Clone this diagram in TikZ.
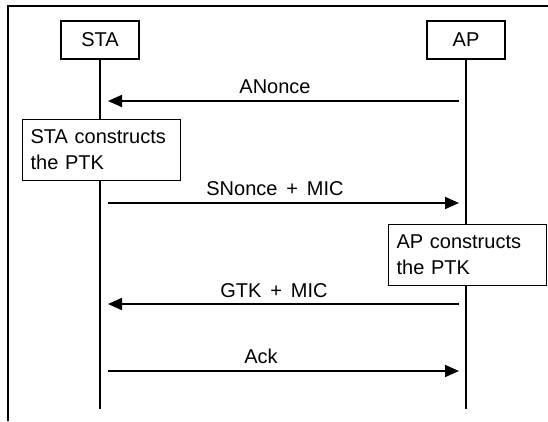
\documentclass[tikz,border=0pt]{standalone}
\usepackage{fontspec}
\setmainfont{Liberation Sans}
\usepackage{tikz}
\usetikzlibrary{positioning,arrows.meta}

\begin{document}
\begin{tikzpicture}[x=1pt, y=-1pt,
    entity/.style={draw, rectangle, fill=white, line width=1.2pt, minimum width=78pt, minimum height=38pt, inner sep=0pt, font=\fontsize{20}{26}\selectfont},
    note/.style={draw, rectangle, fill=white, line width=1.2pt, anchor=north west, text width=142pt, minimum height=61pt, inner xsep=8pt, inner ysep=0pt, align=left, font=\fontsize{20}{26}\selectfont},
    msg/.style={line width=1.9pt, -{Triangle[length=14pt, width=12pt]}},
    lbl/.style={font=\fontsize{20}{24}\selectfont, anchor=base, inner sep=0pt}]
    \useasboundingbox (0,0) rectangle (548,421);
    \draw[line width=1.3pt] (8,421) -- (8,6) -- (548,6);

    \node[entity] (sta) at (100,40) {STA};
    \node[entity] (ap) at (466,40) {AP};
    \coordinate (staend) at (100,409);
    \coordinate (apend) at (466,409);
    \draw[line width=1.9pt] (sta) -- (staend);
    \draw[line width=1.9pt] (ap) -- (apend);

    \node[note] (stanote) at (22,119) {STA constructs\\the PTK};
    \node[note] (apnote) at (388,224) {AP constructs\\the PTK};

    % messages
    \coordinate (ap1) at (459,101);  \coordinate (sta1) at (108,101);
    \coordinate (sta2) at (108,203); \coordinate (ap2) at (459,203);
    \coordinate (ap3) at (459,304);  \coordinate (sta3) at (108,304);
    \coordinate (sta4) at (108,371); \coordinate (ap4) at (459,371);

    \draw[msg] (ap1) -- (sta1);
    \draw[msg] (sta2) -- (ap2);
    \draw[msg] (ap3) -- (sta3);
    \draw[msg] (sta4) -- (ap4);

    \node[lbl] (anonce) at (275,93) {ANonce};
    \node[lbl] (snonce) at (275,195) {SNonce \,+\, MIC};
    \node[lbl] (gtk) at (274,297) {GTK \,+\, MIC};
    \node[lbl] (ack) at (261,363) {Ack};
\end{tikzpicture}
\end{document}
